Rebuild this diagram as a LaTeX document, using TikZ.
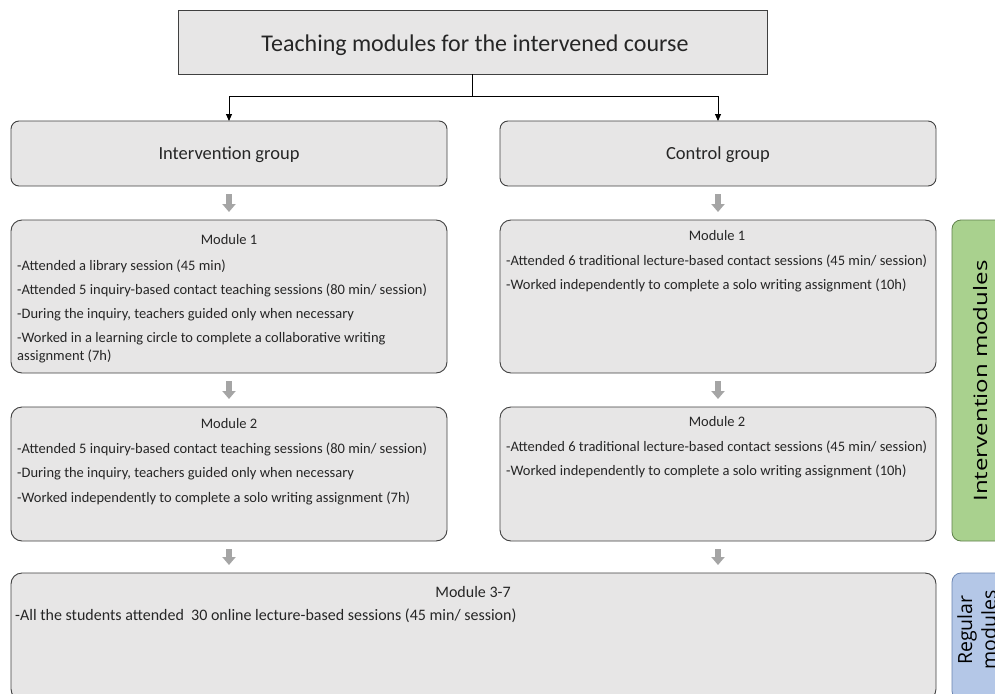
\documentclass[tikz,border=0pt]{standalone}
\usepackage{fontspec}
\setmainfont{Carlito}
\newfontfamily\sidefont{Open Sans}
\usetikzlibrary{arrows.meta}
\definecolor{boxfill}{HTML}{E7E6E6}
\definecolor{boxline}{HTML}{404040}
\definecolor{txt}{HTML}{262626}
\definecolor{garrow}{HTML}{A5A5A5}
\definecolor{greenfill}{HTML}{A9D18E}
\definecolor{greenline}{HTML}{5E7F4A}
\definecolor{bluefill}{HTML}{B4C7E7}
\definecolor{blueline}{HTML}{6A84B0}
\tikzset{
  titlebox/.style={draw=boxline, fill=boxfill, line width=0.9pt, inner sep=0pt, outer sep=0pt, anchor=north west},
  groupbox/.style={draw=boxline, fill=boxfill, line width=0.9pt, rounded corners=8pt, inner sep=0pt, outer sep=0pt, anchor=north west},
  modbox/.style={draw=boxline, fill=boxfill, line width=0.9pt, rounded corners=11pt, inner sep=0pt, outer sep=0pt, anchor=north west},
  sidegreen/.style={draw=greenline, fill=greenfill, line width=0.8pt, rounded corners=9pt, inner sep=0pt, outer sep=0pt, anchor=north west},
  sideblue/.style={draw=blueline, fill=bluefill, line width=0.8pt, rounded corners=9pt, inner sep=0pt, outer sep=0pt, anchor=north west},
  hdr/.style={text=txt, font=\fontsize{14.5}{17}\selectfont, inner sep=0pt, anchor=base},
  body/.style={text=txt, font=\fontsize{14.5}{17}\selectfont, inner sep=0pt, anchor=base west},
  bigbody/.style={text=txt, font=\fontsize{16}{19}\selectfont, inner sep=0pt},
  grouptxt/.style={text=txt, font=\fontsize{18.5}{22}\selectfont, inner sep=0pt, anchor=base},
  sidetxt/.style={text=black, inner sep=0pt, rotate=90, anchor=base},
  blackarrow/.style={draw=black, line width=0.9pt, -{Triangle[width=6pt,length=7pt]}},
  grayarrow/.style={draw=garrow, line width=6.5pt, -{Triangle[width=13pt,length=8pt]}, shorten <=8pt, shorten >=8pt},
}
\begin{document}
\begin{tikzpicture}[x=1pt,y=-1pt]
\clip (0,0) rectangle (995,693);
\fill[white] (0,0) rectangle (995,693);

% title
\node[titlebox, minimum width=589pt, minimum height=64pt] (title) at (178,10) {};
\node[text=txt, font=\fontsize{24}{28}\selectfont, inner sep=0pt, anchor=base] (titletxt) at (475,52) {Teaching modules for the intervened course};

% groups
\node[groupbox, minimum width=436pt, minimum height=65pt] (ig) at (11,121) {};
\node[groupbox, minimum width=436pt, minimum height=65pt] (cg) at (500,121) {};
\node[grouptxt] (igtxt) at ([yshift=-38pt]ig.north) {Intervention group};
\node[grouptxt] (cgtxt) at ([yshift=-38pt]cg.north) {Control group};

\draw[blackarrow] (title.south) -- ++(0,22) -| (ig.north);
\draw[blackarrow] (title.south) -- ++(0,22) -| (cg.north);

% module 1
\node[modbox, minimum width=436pt, minimum height=153pt] (m1l) at (11,220) {};
\node[modbox, minimum width=436pt, minimum height=153pt] (m1r) at (500,220) {};
% module 2
\node[modbox, minimum width=436pt, minimum height=134pt] (m2l) at (11,407) {};
\node[modbox, minimum width=436pt, minimum height=134pt] (m2r) at (500,407) {};
% module 3-7
\node[modbox, minimum width=925pt, minimum height=127pt] (m3) at (11,573) {};

% side labels
\node[sidegreen, minimum width=60pt, minimum height=321pt] (sg) at (952,220) {};
\node[sideblue, minimum width=60pt, minimum height=127pt] (sb) at (952,573) {};
\node[sidetxt, font=\sidefont\fontsize{18.5}{22}\selectfont] (sgtxt) at (987,381) {\scalebox{1.3}[1]{Intervention modules}};
\node[sidetxt, font=\sidefont\fontsize{19.5}{23}\selectfont] (sbtxt1) at (972,630) {Regular};
\node[sidetxt, font=\sidefont\fontsize{19.5}{23}\selectfont] (sbtxt2) at (996,630) {modules};

% gray arrows
\draw[grayarrow] (ig.south) -- (m1l.north);
\draw[grayarrow] (cg.south) -- (m1r.north);
\draw[grayarrow] (m1l.south) -- (m2l.north);
\draw[grayarrow] (m1r.south) -- (m2r.north);
\draw[grayarrow] (m2l.south) -- (m2l.south |- m3.north);
\draw[grayarrow] (m2r.south) -- (m2r.south |- m3.north);

% module 1 left
\node[hdr] (h1l) at (229,244) {Module 1};
\node[body] (l1a) at (17,270) {-Attended a library session (45 min)};
\node[body] (l1b) at (17,294) {-Attended 5 inquiry-based contact teaching sessions (80 min/ session)};
\node[body] (l1c) at (17,318) {-During the inquiry, teachers guided only when necessary};
\node[body] (l1d) at (17,342.5) {-Worked in a learning circle to complete a collaborative writing};
\node[body] (l1e) at (17,360) {assignment (7h)};
% module 1 right
\node[hdr] (h1r) at (717,240) {Module 1};
\node[body] (r1a) at (506,265) {-Attended 6 traditional lecture-based contact sessions (45 min/ session)};
\node[body] (r1b) at (506,289) {-Worked independently to complete a solo writing assignment (10h)};
% module 2 left
\node[hdr] (h2l) at (229,428) {Module 2};
\node[body] (l2a) at (17,453) {-Attended 5 inquiry-based contact teaching sessions (80 min/ session)};
\node[body] (l2b) at (17,477) {-During the inquiry, teachers guided only when necessary};
\node[body] (l2c) at (17,502) {-Worked independently to complete a solo writing assignment (7h)};
% module 2 right
\node[hdr] (h2r) at (717,426) {Module 2};
\node[body] (r2a) at (506,451) {-Attended 6 traditional lecture-based contact sessions (45 min/ session)};
\node[body] (r2b) at (506,475) {-Worked independently to complete a solo writing assignment (10h)};
% module 3-7
\node[bigbody, anchor=base] (h3) at (473,597) {Module 3-7};
\node[bigbody, anchor=base west] (b3) at (15,620) {-All the students attended~ 30 online lecture-based sessions (45 min/ session)};
\end{tikzpicture}
\end{document}
